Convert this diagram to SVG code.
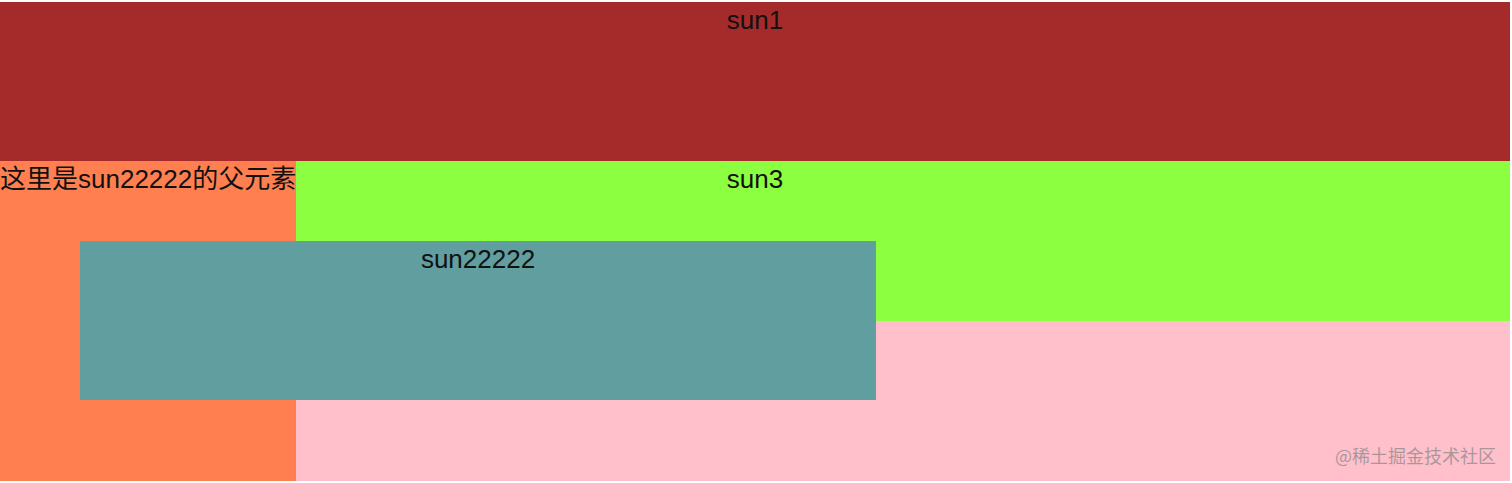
<svg xmlns="http://www.w3.org/2000/svg" width="1512" height="483" viewBox="0 0 1512 483">
<style>
.t{font-family:"Liberation Sans","Noto Sans CJK SC",sans-serif;font-size:26px;fill:#111}
.c{text-anchor:middle}
.wm{font-family:"Noto Sans CJK SC","Liberation Sans",sans-serif;font-size:18px;fill:#8a8a8a;fill-opacity:0.75}
</style>
<rect x="0" y="0" width="1512" height="483" fill="#ffffff"/>
<g id="sun1">
<rect x="0" y="2" width="1510" height="159" fill="#a52a2a"/>
<text class="t c" x="755" y="29">sun1</text>
</g>
<g id="parent">
<rect x="0" y="161" width="296" height="320" fill="#ff7f50"/>
<text class="t" x="0" y="188">这里是sun22222的父元素</text>
</g>
<g id="sun3">
<rect x="296" y="161" width="1214" height="160" fill="#8cff40"/>
<text class="t c" x="755" y="188">sun3</text>
</g>
<g id="sun4">
<rect x="296" y="321" width="1214" height="160" fill="#ffc0cb"/>
</g>
<g id="sun22222">
<rect x="80" y="241" width="796" height="159" fill="#609ea0"/>
<text class="t c" x="478" y="268">sun22222</text>
</g>
<g id="connectors"></g>
<text class="wm" x="1335" y="463">@稀土掘金技术社区</text>
</svg>
